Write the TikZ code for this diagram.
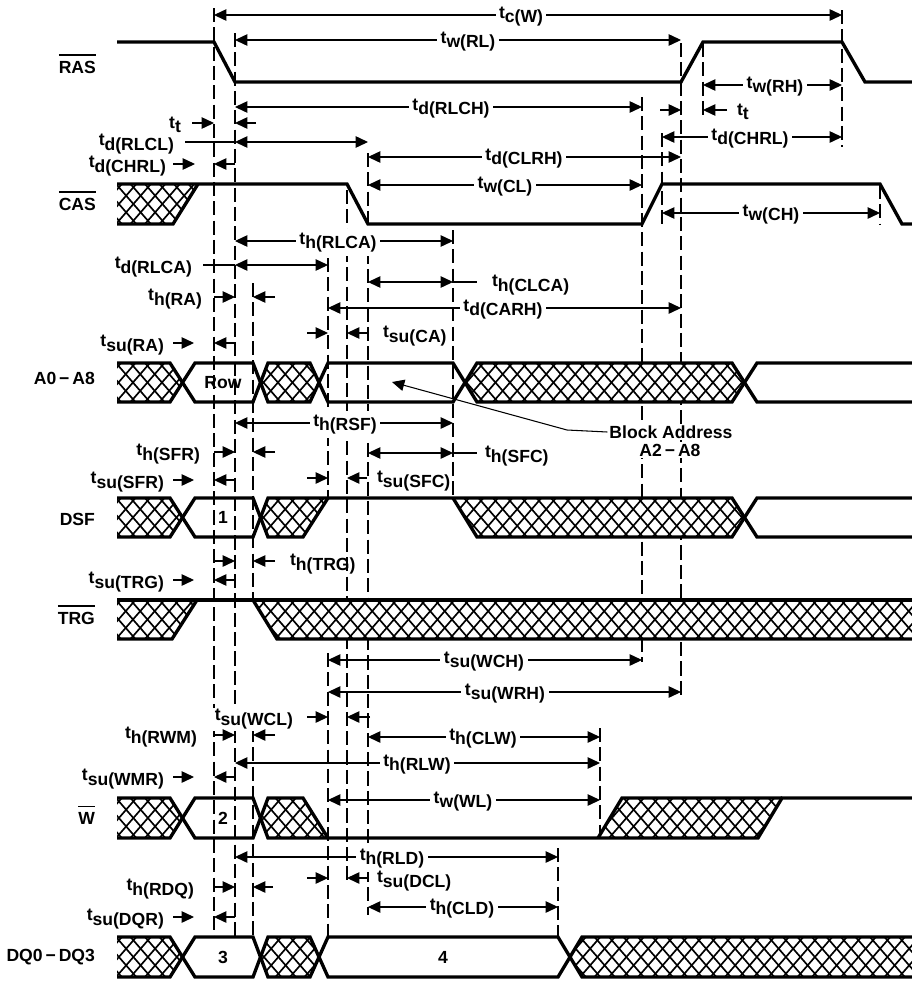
\documentclass[tikz,border=0pt]{standalone}
\usepackage{fontspec}
\setmainfont{Liberation Sans}
\usetikzlibrary{arrows.meta}
\newcommand{\tl}[1]{t\raisebox{-2.5pt}{#1}}
\newcommand{\ovl}[1]{\leavevmode\vbox{\hrule height 0.8pt\kern 3pt\hbox{#1}}}
\newcommand{\hatchreg}[5]{%
  \begin{scope}
    \fill[white] #1;
    \clip #1;
    \pgfmathsetmacro{\hy}{#5-#4}%
    \pgfmathsetmacro{\hx}{\hy/1.15}%
    \pgfmathtruncatemacro{\ia}{floor((#2-\hx)/14.5)-1}%
    \pgfmathtruncatemacro{\ib}{ceil((#3)/14.5)+1}%
    \foreach \i in {\ia,...,\ib}{%
      \draw[hatchln] ({\i*14.5},#4) -- ++(\hx,\hy);
      \draw[hatchln] ({\i*14.5},#5) -- ++(\hx,-\hy);
    }
  \end{scope}}
\newcommand{\dimin}[6]{%
  \draw[dim,<->] (#3,#2) -- (#4,#2);
  \node[lab] (#1) at (#5,#2+1.5) {#6};}
\newcommand{\pairarr}[5]{% y, tail1, tip1, tail2, tip2
  \draw[dim,->] (#2,#1) -- (#3,#1);
  \draw[dim,->] (#4,#1) -- (#5,#1);}
\begin{document}
\begin{tikzpicture}[x=0.02cm,y=-0.02cm,
  every node/.style={font=\bfseries\fontsize{10}{12}\selectfont, inner sep=1pt},
  sig/.style={line width=1.9pt},
  dim/.style={line width=0.6pt},
  dsh/.style={line width=0.6pt, dash pattern=on 8pt off 3pt},
  hatchln/.style={line width=0.95pt},
  lab/.style={fill=white, inner sep=2pt},
  >={Triangle[length=7pt,width=6.5pt]}]
\fill[white] (0,0) rectangle (912,981);
\useasboundingbox (0,0) rectangle (912,981);

% ---------- dashed reference lines ----------
\foreach \x/\ya/\yb in {214/8/937, 235/33/937, 253/283/600, 253/728/937,
  328/258/498, 328/653/937, 347/190/885, 368/153/915, 453/230/500,
  642/97/662, 662/133/225, 681/43/695, 703/43/117, 842/10/147,
  880/185/225, 600/728/838, 558/848/937}
  \draw[dsh] (\x,\ya) -- (\x,\yb);

% ---------- RAS ----------
\draw[sig] (117,42) -- (214,42) -- (235,82) -- (681,82) -- (703,42) -- (842,42) -- (865,82) -- (912,82);

% ---------- CAS ----------
\hatchreg{(117,184) -- (198,184) -- (173,224) -- (117,224) -- cycle}{117}{198}{184}{224}
\draw[sig] (117,184) -- (347,184) -- (368,224) -- (642,224) -- (662,184) -- (880,184) -- (902,224) -- (912,224);
\draw[sig] (117,224) -- (173,224) -- (198,184);

% ---------- A0-A8 ----------
\hatchreg{(117,363) -- (170,363) -- (182.5,382.5) -- (170,402) -- (117,402) -- cycle}{117}{183}{363}{402}
\hatchreg{(260.5,382.5) -- (268,363) -- (310,363) -- (319,382.5) -- (310,402) -- (268,402) -- cycle}{260}{320}{363}{402}
\hatchreg{(465,382.5) -- (477,363) -- (732,363) -- (744.5,382.5) -- (732,402) -- (477,402) -- cycle}{465}{745}{363}{402}
\draw[sig] (117,363) -- (170,363) -- (195,402) -- (253,402) -- (268,363) -- (310,363) -- (328,402) -- (453,402) -- (477,363) -- (732,363) -- (757,402) -- (912,402);
\draw[sig] (117,402) -- (170,402) -- (195,363) -- (253,363) -- (268,402) -- (310,402) -- (328,363) -- (453,363) -- (477,402) -- (732,402) -- (757,363) -- (912,363);

% ---------- DSF ----------
\hatchreg{(117,498) -- (170,498) -- (182.5,517.5) -- (170,537) -- (117,537) -- cycle}{117}{183}{498}{537}
\hatchreg{(260.5,517.5) -- (268,498) -- (328,498) -- (303,537) -- (268,537) -- cycle}{260}{328}{498}{537}
\hatchreg{(453,498) -- (732,498) -- (744.5,517.5) -- (732,537) -- (477,537) -- cycle}{453}{745}{498}{537}
\draw[sig] (117,498) -- (170,498) -- (195,537) -- (253,537) -- (268,498) -- (732,498) -- (757,537) -- (912,537);
\draw[sig] (117,537) -- (170,537) -- (195,498) -- (253,498) -- (268,537) -- (303,537) -- (328,498);
\draw[sig] (453,498) -- (477,537) -- (732,537) -- (757,498) -- (912,498);

% ---------- TRG ----------
\hatchreg{(117,600) -- (197,600) -- (172,639) -- (117,639) -- cycle}{117}{197}{600}{639}
\hatchreg{(253,600) -- (912,600) -- (912,639) -- (277,639) -- cycle}{253}{912}{600}{639}
\draw[sig] (117,600) -- (912,600);
\draw[sig] (117,639) -- (172,639) -- (197,600);
\draw[sig] (253,600) -- (277,639) -- (912,639);

% ---------- W ----------
\hatchreg{(117,798) -- (170,798) -- (182.5,818) -- (170,838) -- (117,838) -- cycle}{117}{183}{798}{838}
\hatchreg{(260.5,818) -- (268,798) -- (303,798) -- (328,838) -- (268,838) -- cycle}{260}{328}{798}{838}
\hatchreg{(598,838) -- (622,798) -- (782,798) -- (758,838) -- cycle}{598}{782}{798}{838}
\draw[sig] (117,798) -- (170,798) -- (195,838) -- (253,838) -- (268,798) -- (303,798) -- (328,838) -- (758,838) -- (782,798) -- (912,798);
\draw[sig] (117,838) -- (170,838) -- (195,798) -- (253,798) -- (268,838) -- (328,838);
\draw[sig] (598,838) -- (622,798) -- (782,798);

% ---------- DQ0-DQ3 ----------
\hatchreg{(117,937) -- (170,937) -- (182.5,957) -- (170,977) -- (117,977) -- cycle}{117}{183}{937}{977}
\hatchreg{(260.5,957) -- (268,937) -- (310,937) -- (319,957) -- (310,977) -- (268,977) -- cycle}{260}{320}{937}{977}
\hatchreg{(570,957) -- (582,937) -- (912,937) -- (912,977) -- (582,977) -- cycle}{570}{912}{937}{977}
\draw[sig] (117,937) -- (170,937) -- (195,977) -- (253,977) -- (268,937) -- (310,937) -- (328,977) -- (558,977) -- (582,937) -- (912,937);
\draw[sig] (117,977) -- (170,977) -- (195,937) -- (253,937) -- (268,977) -- (310,977) -- (328,937) -- (558,937) -- (582,977) -- (912,977);

% ---------- signal names and data labels ----------
\node[anchor=east] (nRAS) at (98,64) {\ovl{RAS}};
\node[anchor=east] (nCAS) at (98,201) {\ovl{CAS}};
\node[anchor=east] (nA) at (97,378) {A0\,−\,A8};
\node[anchor=east] (nDSF) at (97,519) {DSF};
\node[anchor=east] (nTRG) at (97,615) {\ovl{TRG}};
\node[anchor=east] (nW) at (97,815) {\ovl{W}};
\node[anchor=east] (nDQ) at (97,957) {DQ0\,−\,DQ3};
\node (vRow) at (223,383) {Row};
\node (v1) at (223,517) {1};
\node (v2) at (223,818) {2};
\node (v3) at (223,957) {3};
\node (v4) at (443,957) {4};

% ---------- timing parameters: top ----------
\dimin{dtcw}{15}{214}{842}{521}{\tl{c(W)}}
\dimin{dtwrl}{40}{235}{681}{468}{\tl{w(RL)}}
\dimin{dtwrh}{85}{703}{842}{775}{\tl{w(RH)}}
\dimin{dtdrlch}{107}{235}{642}{451}{\tl{d(RLCH)}}
\dimin{dtdchrlb}{137}{662}{842}{750}{\tl{d(CHRL)}}
\dimin{dtdclrh}{157}{368}{681}{524}{\tl{d(CLRH)}}
\dimin{dtwcl}{185}{368}{642}{505}{\tl{w(CL)}}
\dimin{dtwch}{213}{662}{880}{771}{\tl{w(CH)}}

\pairarr{123}{192}{214}{256}{235}
\node[anchor=east] (ltta) at (183,125) {\tl{t}};
\pairarr{110}{660}{681}{727}{703}
\node[anchor=west] (lttb) at (735,112) {\tl{t}};
\draw[dim] (185,142) -- (235,142);
\draw[dim,<->] (235,142) -- (368,142);
\node[anchor=east] (ltdrlcl) at (176,144) {\tl{d(RLCL)}};
\pairarr{164}{173}{195}{235}{214}
\node[anchor=east] (ltdchrla) at (168,166) {\tl{d(CHRL)}};

% ---------- timing parameters: middle ----------
\dimin{dthrlca}{241}{235}{453}{338}{\tl{h(RLCA)}}
\draw[dim] (203,265) -- (235,265);
\draw[dim,<->] (235,265) -- (328,265);
\node[anchor=east] (ltdrlca) at (194,267) {\tl{d(RLCA)}};
\draw[dim,<->] (368,282) -- (453,282);
\draw[dim] (453,282) -- (477,282);
\node[anchor=west] (lthclca) at (490,285) {\tl{h(CLCA)}};
\pairarr{297}{214}{235}{275}{253}
\node[anchor=east] (lthra) at (204,299) {\tl{h(RA)}};
\dimin{dtdcarh}{308}{328}{681}{503}{\tl{d(CARH)}}
\pairarr{333}{307}{328}{367}{347}
\node[anchor=west] (ltsuca) at (381,336) {\tl{su(CA)}};
\pairarr{343}{173}{194}{235}{214}
\node[anchor=east] (ltsura) at (166,345) {\tl{su(RA)}};

\coordinate (bkA) at (392,382);
\node[fill=white] (blk1) at (671,432) {Block Address};
\node[fill=white] (blk2) at (670,450) {A2\,−\,A8};
\draw[dim,->] (blk1.west) -- (567,430) -- (bkA);

\dimin{dthrsf}{423}{235}{453}{345}{\tl{h(RSF)}}
\pairarr{452}{214}{235}{275}{253}
\node[anchor=east] (lthsfr) at (202,454) {\tl{h(SFR)}};
\draw[dim,<->] (368,453) -- (453,453);
\draw[dim] (453,453) -- (477,453);
\node[anchor=west] (lthsfc) at (483,456) {\tl{h(SFC)}};
\pairarr{480}{173}{194}{235}{214}
\node[anchor=east] (ltsusfr) at (166,482) {\tl{su(SFR)}};
\pairarr{478}{307}{328}{367}{347}
\node[anchor=west] (ltsusfc) at (375,481) {\tl{su(SFC)}};
\pairarr{561}{214}{235}{275}{253}
\node[anchor=west] (lthtrg) at (288,564) {\tl{h(TRG)}};
\pairarr{580}{173}{194}{235}{214}
\node[anchor=east] (ltsutrg) at (166,582) {\tl{su(TRG)}};

% ---------- timing parameters: bottom ----------
\dimin{dtsuwch}{660}{328}{642}{484}{\tl{su(WCH)}}
\dimin{dtsuwrh}{692}{328}{681}{505}{\tl{su(WRH)}}
\pairarr{717}{307}{328}{370}{347}
\node[anchor=east, fill=white] (ltsuwcl) at (295,719) {\tl{su(WCL)}};
\dimin{dthclw}{737}{368}{600}{483}{\tl{h(CLW)}}
\pairarr{735}{214}{235}{275}{253}
\node[anchor=east] (lthrwm) at (199,737) {\tl{h(RWM)}};
\dimin{dthrlw}{763}{235}{600}{417}{\tl{h(RLW)}}
\pairarr{777}{173}{194}{235}{214}
\node[anchor=east] (ltsuwmr) at (166,779) {\tl{su(WMR)}};
\dimin{dtwwl}{800}{328}{600}{463}{\tl{w(WL)}}
\dimin{dthrld}{857}{235}{558}{392}{\tl{h(RLD)}}
\pairarr{878}{307}{328}{367}{347}
\node[anchor=west] (ltsudcl) at (375,881) {\tl{su(DCL)}};
\pairarr{887}{214}{235}{273}{253}
\node[anchor=east] (lthrdq) at (196,889) {\tl{h(RDQ)}};
\dimin{dthcld}{907}{368}{558}{462}{\tl{h(CLD)}}
\pairarr{917}{173}{194}{235}{214}
\node[anchor=east] (ltsudqr) at (166,919) {\tl{su(DQR)}};
\end{tikzpicture}
\end{document}
